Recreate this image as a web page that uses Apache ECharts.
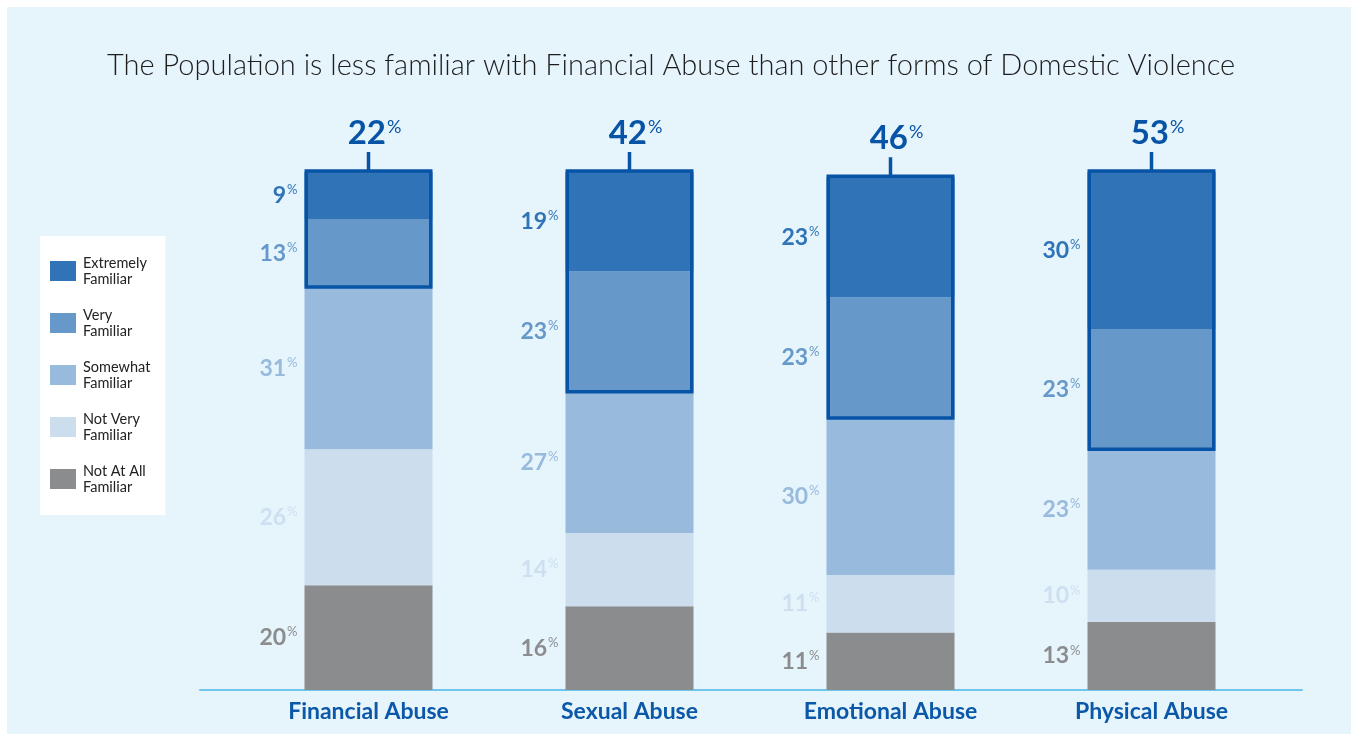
<!DOCTYPE html>
<html>
<head>
<meta charset="utf-8">
<script src="https://cdn.jsdelivr.net/npm/echarts@6/dist/echarts.min.js"></script>
<style>
html,body{margin:0;padding:0;background:#ffffff;}
#bg{position:absolute;left:7px;top:7px;width:1344px;height:727px;background:#e6f4fc;}
#chart{position:absolute;left:0;top:0;width:1351px;height:734px;}
</style>
</head>
<body>
<div id="bg"></div>
<div id="chart"></div>
<script>
const categories = ['Financial Abuse', 'Sexual Abuse', 'Emotional Abuse', 'Physical Abuse'];
const extremelyFamiliar = [9, 19, 23, 30];
const veryFamiliar = [13, 23, 23, 23];
const somewhatFamiliar = [31, 27, 30, 23];
const notVeryFamiliar = [26, 14, 11, 10];
const notAtAllFamiliar = [20, 16, 11, 13];
const familiarTotals = [22, 42, 46, 53];

const FONT = 'Lato';
const BOX = '#0754a6';

const seriesDefs = [
  { name: 'Not At All Familiar', data: notAtAllFamiliar, color: '#8b8c8e', label: '#8b8c8e' },
  { name: 'Not Very Familiar', data: notVeryFamiliar, color: '#ccdeee', label: '#cddff0' },
  { name: 'Somewhat Familiar', data: somewhatFamiliar, color: '#98badd', label: '#98badd' },
  { name: 'Very Familiar', data: veryFamiliar, color: '#6699c9', label: '#6699c9' },
  { name: 'Extremely Familiar', data: extremelyFamiliar, color: '#3074b7', label: '#3074b7' }
];

const barSeries = seriesDefs.map(d => ({
  name: d.name,
  type: 'bar',
  stack: 'all',
  barWidth: 128,
  data: d.data,
  itemStyle: { color: d.color },
  label: {
    show: true,
    position: 'left',
    distance: 7,
    formatter: p => '{n|' + p.value + '}{p|%}',
    rich: {
      n: { fontFamily: FONT, fontSize: 23, fontWeight: 'bold', color: d.label, lineHeight: 24 },
      p: { fontFamily: FONT, fontSize: 13, color: d.label, verticalAlign: 'top', lineHeight: 13, padding: [0, 0, 0, 1] }
    }
  },
  emphasis: { disabled: true }
}));

// box around the top two segments
const boxData = categories.map((c, i) => {
  const total = extremelyFamiliar[i] + veryFamiliar[i] + somewhatFamiliar[i] + notVeryFamiliar[i] + notAtAllFamiliar[i];
  return [i, total - extremelyFamiliar[i] - veryFamiliar[i], total, familiarTotals[i]];
});

const boxSeries = {
  type: 'custom',
  name: 'box',
  data: boxData,
  encode: { x: 0, y: [1, 2] },
  z: 10,
  silent: true,
  renderItem: function (params, api) {
    const top = api.coord([api.value(0), api.value(2)]);
    const bot = api.coord([api.value(0), api.value(1)]);
    const w = 128, lw = 3.5;
    return {
      type: 'group',
      children: [
        {
          type: 'rect',
          shape: { x: top[0] - w / 2 + lw / 2, y: top[1] - 1, width: w - lw, height: bot[1] - top[1] + 1 },
          style: { fill: 'none', stroke: BOX, lineWidth: lw }
        },
        {
          type: 'line',
          shape: { x1: top[0], y1: top[1] - 1, x2: top[0], y2: top[1] - 20 },
          style: { stroke: BOX, lineWidth: 3.5 }
        },
        {
          type: 'text',
          x: top[0] + 6,
          y: top[1] - 22,
          style: {
            text: '{n|' + api.value(3) + '}{p|%}',
            align: 'center',
            verticalAlign: 'bottom',
            rich: {
              n: { fontFamily: FONT, fontSize: 33, fontWeight: 'bold', fill: BOX, lineHeight: 34 },
              p: { fontFamily: FONT, fontSize: 18, fill: BOX, verticalAlign: 'top', lineHeight: 18, padding: [2, 0, 0, 1] }
            }
          }
        }
      ]
    };
  }
};

const chart = echarts.init(document.getElementById('chart'), null, { renderer: 'canvas' });
chart.setOption({
  backgroundColor: 'transparent',
  animation: false,
  title: {
    text: 'The Population is less familiar with Financial Abuse than other forms of Domestic Violence',
    left: 102,
    top: 46,
    textStyle: { fontFamily: FONT, fontSize: 29, fontWeight: 300, color: '#1e1e1e' }
  },
  legend: {
    orient: 'vertical',
    left: 40,
    top: 236,
    data: ['Extremely Familiar', 'Very Familiar', 'Somewhat Familiar', 'Not Very Familiar', 'Not At All Familiar'],
    backgroundColor: '#ffffff',
    padding: [19, 15, 20, 10],
    itemWidth: 26,
    itemHeight: 20,
    itemGap: 20,
    icon: 'rect',
    selectedMode: false,
    formatter: name => {
      const k = name.lastIndexOf(' ');
      return name.slice(0, k) + '\n' + name.slice(k + 1);
    },
    textStyle: { fontFamily: FONT, fontSize: 14.5, color: '#222222', lineHeight: 16, padding: [0, 0, 0, 2] }
  },
  grid: [
    { left: 238, right: 69, top: 172, bottom: 44, containLabel: false },
    { left: 200, right: 49, top: 172, bottom: 44, containLabel: false }
  ],
  xAxis: [
    {
      type: 'category',
      gridIndex: 0,
      data: categories,
      axisLine: { show: false },
      axisTick: { show: false },
      axisLabel: { margin: 10, fontFamily: FONT, fontSize: 23, fontWeight: 'bold', color: '#0b58a8' }
    },
    {
      type: 'category',
      gridIndex: 1,
      data: [''],
      axisLine: { show: true, lineStyle: { color: '#6fc6ea', width: 2 } },
      axisTick: { show: false },
      axisLabel: { show: false },
      z: 1
    }
  ],
  yAxis: [
    { type: 'value', gridIndex: 0, min: 0, max: 99, show: false },
    { type: 'value', gridIndex: 1, min: 0, max: 99, show: false }
  ],
  series: barSeries.concat([boxSeries])
});
</script>
</body>
</html>
